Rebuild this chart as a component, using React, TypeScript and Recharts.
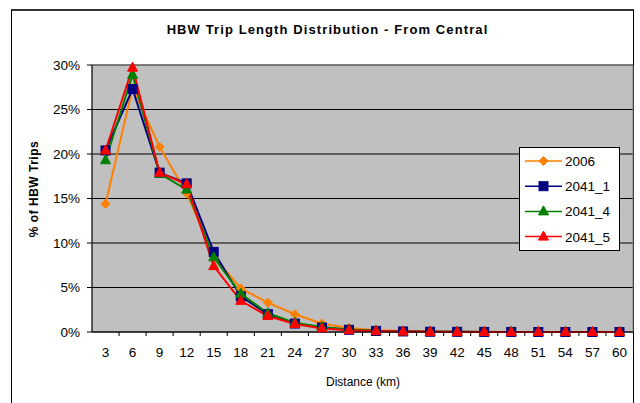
import React from 'react';
import {
  LineChart,
  Line,
  XAxis,
  YAxis,
  CartesianGrid,
  ReferenceArea,
  Legend,
} from 'recharts';

// --- Data (percent of HBW trips by distance band) ---
const DIST = [3, 6, 9, 12, 15, 18, 21, 24, 27, 30, 33, 36, 39, 42, 45, 48, 51, 54, 57, 60];
const S2006 = [14.4, 27.4, 20.8, 15.6, 8.5, 4.9, 3.3, 2.0, 0.95, 0.45, 0.2, 0.1, 0.05, 0.03, 0.02, 0.01, 0.01, 0, 0, 0];
const S2041_1 = [20.4, 27.3, 17.9, 16.7, 9.0, 4.0, 2.0, 0.95, 0.5, 0.25, 0.12, 0.06, 0.03, 0.02, 0.01, 0.01, 0, 0, 0, 0];
const S2041_4 = [19.3, 28.9, 17.8, 16.0, 8.4, 4.3, 2.1, 1.05, 0.55, 0.28, 0.13, 0.06, 0.03, 0.02, 0.01, 0.01, 0, 0, 0, 0];
const S2041_5 = [20.4, 29.7, 17.9, 16.6, 7.4, 3.5, 1.8, 0.9, 0.4, 0.2, 0.1, 0.05, 0.02, 0.01, 0.01, 0, 0, 0, 0, 0];
const Y_TICKS = [0, 5, 10, 15, 20, 25, 30];

const TITLE = 'HBW Trip Length Distribution - From Central';
const Y_LABEL = '% of HBW Trips';
const X_LABEL = 'Distance (km)';

const FONT = '"Liberation Sans", Arial, sans-serif';

const SERIES = [
  { key: 's2006', name: '2006', color: '#FF8000', shape: 'diamond' },
  { key: 's2041_1', name: '2041_1', color: '#000080', shape: 'square' },
  { key: 's2041_4', name: '2041_4', color: '#008000', shape: 'triangle' },
  { key: 's2041_5', name: '2041_5', color: '#FF0000', shape: 'triangle' },
];

const data = DIST.map((d, i) => ({
  dist: d,
  s2006: S2006[i],
  s2041_1: S2041_1[i],
  s2041_4: S2041_4[i],
  s2041_5: S2041_5[i],
}));

// tick marks sit on the band boundaries, labels on the band centres
const X_TICKS = [...DIST, ...DIST.slice(0, -1).map((d) => d + 1.5)];

// --- Marker shapes ---
function Marker({ cx, cy, shape, color }: { cx: number; cy: number; shape: string; color: string }) {
  if (cx == null || cy == null) return null;
  if (shape === 'diamond') {
    return <polygon points={`${cx},${cy - 4.5} ${cx + 4.5},${cy} ${cx},${cy + 4.5} ${cx - 4.5},${cy}`} fill={color} stroke={color} />;
  }
  if (shape === 'square') {
    return <rect x={cx - 4.5} y={cy - 4.5} width={9} height={9} fill={color} stroke={color} />;
  }
  return <polygon points={`${cx},${cy - 5.5} ${cx + 5},${cy + 3.5} ${cx - 5},${cy + 3.5}`} fill={color} stroke={color} />;
}

function XTick({ x, y, payload }: any) {
  const v = payload.value;
  if (Number.isInteger(v) && v % 3 === 0) {
    return (
      <text x={x} y={y + 25} textAnchor="middle" fontSize={13.5} fontFamily={FONT} fill="#000">
        {v}
      </text>
    );
  }
  return <line x1={x} y1={y} x2={x} y2={y + 4} stroke="#000" />;
}

function LegendBox() {
  return (
    <svg width={101} height={104} style={{ display: 'block' }}>
      <rect x={0.5} y={0.5} width={100} height={103} fill="#fff" stroke="#000" />
      {SERIES.map((s, i) => {
        const cy = 14 + i * 25.2;
        return (
          <g key={s.key}>
            <line x1={6} y1={cy} x2={43} y2={cy} stroke={s.color} strokeWidth={1.5} />
            <Marker cx={24.5} cy={cy} shape={s.shape} color={s.color} />
            <text x={46} y={cy + 5} fontSize={13.5} fontFamily={FONT} fill="#000">
              {s.name}
            </text>
          </g>
        );
      })}
    </svg>
  );
}

export default function App() {
  return (
    <div style={{ position: 'absolute', left: 0, top: 0, width: 640, height: 403, background: '#fff', overflow: 'hidden' }}>
      <div style={{ position: 'absolute', left: 11, top: 9, width: 621, height: 420, borderTop: '2px solid #333', borderLeft: '1px solid #000', borderRight: '1px solid #000' }} />
      <div style={{ position: 'absolute', left: 0, top: 0 }}>
        <LineChart width={640} height={403} data={data} margin={{ top: 65, right: 7, left: 32, bottom: 41 }}>
          <CartesianGrid vertical={false} stroke="#000" fill="#C0C0C0" fillOpacity={1} />
          <ReferenceArea x1={1.5} x2={61.5} y1={0} y2={30} fill="none" stroke="#808080" ifOverflow="visible" />
          <XAxis
            dataKey="dist"
            type="number"
            domain={[1.5, 61.5]}
            ticks={X_TICKS}
            interval={0}
            tickSize={0}
            tickMargin={0}
            tickLine={false}
            tick={<XTick />}
            axisLine={{ stroke: '#000' }}
            height={30}
          />
          <YAxis
            type="number"
            domain={[0, 30]}
            ticks={Y_TICKS}
            interval={0}
            width={60}
            tickSize={5}
            tickMargin={7}
            tickFormatter={(v: number) => `${v}%`}
            tick={{ fontSize: 13.5, fontFamily: FONT, fill: '#000' }}
            tickLine={{ stroke: '#000' }}
            axisLine={{ stroke: '#000' }}
          />
          <Legend
            layout="vertical"
            align="center"
            verticalAlign="middle"
            content={() => <LegendBox />}
            wrapperStyle={{ left: 519, top: 147, width: 101, height: 104 }}
          />
          {SERIES.map((s) => (
            <Line
              key={s.key}
              dataKey={s.key}
              name={s.name}
              type="linear"
              stroke={s.color}
              strokeWidth={2}
              isAnimationActive={false}
              dot={(p: any) => <Marker key={`${s.key}-${p.index}`} cx={p.cx} cy={p.cy} shape={s.shape} color={s.color} />}
              activeDot={false}
            />
          ))}
        </LineChart>
      </div>
      <svg width={640} height={403} style={{ position: 'absolute', left: 0, top: 0, pointerEvents: 'none' }}>
        <text x={327.5} y={34} textAnchor="middle" fontSize={13} fontWeight="bold" letterSpacing={1.1} fontFamily={FONT} fill="#000">
          {TITLE}
        </text>
        <text x={363} y={386} textAnchor="middle" fontSize={12} fontFamily={FONT} fill="#000">
          {X_LABEL}
        </text>
        <text
          x={0}
          y={0}
          transform="translate(38, 189) rotate(-90)"
          textAnchor="middle"
          fontSize={12}
          fontWeight="bold"
          letterSpacing={0.5}
          fontFamily={FONT}
          fill="#000"
        >
          {Y_LABEL}
        </text>
      </svg>
    </div>
  );
}
